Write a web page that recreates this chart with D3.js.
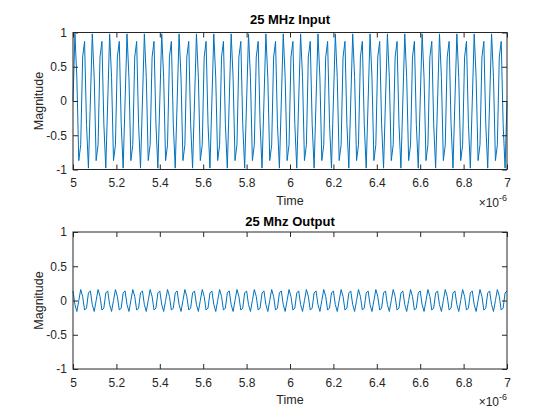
<!DOCTYPE html>
<html>
<head>
  <meta charset="utf-8">
  <title>25 MHz Input / Output</title>
  <style type="text/css">
    body { margin: 0; background: #fff; }
    svg { display: block; font-family: "Liberation Sans", Arial, sans-serif; }
    .tick text { fill: #262626; font-size: 12px; }
    .tick line { stroke: #262626; }
    .lbl { fill: #262626; font-size: 12.5px; }
    .ttl { fill: #000; font-size: 13px; font-weight: bold; }
  </style>
</head>
<body>
<svg id="vis" width="560" height="420"></svg>

<script src="https://cdnjs.cloudflare.com/ajax/libs/d3/7.8.5/d3.min.js"></script>
<script type="text/javascript">
  // sampling grid: 5 us to 7 us
  var tStart = 5e-6
  var tStep = 1 / 112.5e6

  var xTicks = [5, 5.2, 5.4, 5.6, 5.8, 6, 6.2, 6.4, 6.6, 6.8, 7]
  var yTicks = [-1, -0.5, 0, 0.5, 1]
  var titles = ['25 MHz Input', '25 Mhz Output']

  // input magnitude (one row = two cycles)
  var inputMag = [
    0, 0.98, 0.34, -0.87, -0.64, 0.64, 0.87, -0.34, -0.98,
    0, 0.98, 0.34, -0.87, -0.64, 0.64, 0.87, -0.34, -0.98,
    0, 0.98, 0.34, -0.87, -0.64, 0.64, 0.87, -0.34, -0.98,
    0, 0.98, 0.34, -0.87, -0.64, 0.64, 0.87, -0.34, -0.98,
    0, 0.98, 0.34, -0.87, -0.64, 0.64, 0.87, -0.34, -0.98,
    0, 0.98, 0.34, -0.87, -0.64, 0.64, 0.87, -0.34, -0.98,
    0, 0.98, 0.34, -0.87, -0.64, 0.64, 0.87, -0.34, -0.98,
    0, 0.98, 0.34, -0.87, -0.64, 0.64, 0.87, -0.34, -0.98,
    0, 0.98, 0.34, -0.87, -0.64, 0.64, 0.87, -0.34, -0.98,
    0, 0.98, 0.34, -0.87, -0.64, 0.64, 0.87, -0.34, -0.98,
    0, 0.98, 0.34, -0.87, -0.64, 0.64, 0.87, -0.34, -0.98,
    0, 0.98, 0.34, -0.87, -0.64, 0.64, 0.87, -0.34, -0.98,
    0, 0.98, 0.34, -0.87, -0.64, 0.64, 0.87, -0.34, -0.98,
    0, 0.98, 0.34, -0.87, -0.64, 0.64, 0.87, -0.34, -0.98,
    0, 0.98, 0.34, -0.87, -0.64, 0.64, 0.87, -0.34, -0.98,
    0, 0.98, 0.34, -0.87, -0.64, 0.64, 0.87, -0.34, -0.98,
    0, 0.98, 0.34, -0.87, -0.64, 0.64, 0.87, -0.34, -0.98,
    0, 0.98, 0.34, -0.87, -0.64, 0.64, 0.87, -0.34, -0.98,
    0, 0.98, 0.34, -0.87, -0.64, 0.64, 0.87, -0.34, -0.98,
    0, 0.98, 0.34, -0.87, -0.64, 0.64, 0.87, -0.34, -0.98,
    0, 0.98, 0.34, -0.87, -0.64, 0.64, 0.87, -0.34, -0.98,
    0, 0.98, 0.34, -0.87, -0.64, 0.64, 0.87, -0.34, -0.98,
    0, 0.98, 0.34, -0.87, -0.64, 0.64, 0.87, -0.34, -0.98,
    0, 0.98, 0.34, -0.87, -0.64, 0.64, 0.87, -0.34, -0.98,
    0, 0.98, 0.34, -0.87, -0.64, 0.64, 0.87, -0.34, -0.98,
    0
  ]

  // output magnitude
  var outputMag = [
    0.14, -0.06, -0.16, 0, 0.16, 0.06, -0.14, -0.11, 0.11,
    0.14, -0.06, -0.16, 0, 0.16, 0.06, -0.14, -0.11, 0.11,
    0.14, -0.06, -0.16, 0, 0.16, 0.06, -0.14, -0.11, 0.11,
    0.14, -0.06, -0.16, 0, 0.16, 0.06, -0.14, -0.11, 0.11,
    0.14, -0.06, -0.16, 0, 0.16, 0.06, -0.14, -0.11, 0.11,
    0.14, -0.06, -0.16, 0, 0.16, 0.06, -0.14, -0.11, 0.11,
    0.14, -0.06, -0.16, 0, 0.16, 0.06, -0.14, -0.11, 0.11,
    0.14, -0.06, -0.16, 0, 0.16, 0.06, -0.14, -0.11, 0.11,
    0.14, -0.06, -0.16, 0, 0.16, 0.06, -0.14, -0.11, 0.11,
    0.14, -0.06, -0.16, 0, 0.16, 0.06, -0.14, -0.11, 0.11,
    0.14, -0.06, -0.16, 0, 0.16, 0.06, -0.14, -0.11, 0.11,
    0.14, -0.06, -0.16, 0, 0.16, 0.06, -0.14, -0.11, 0.11,
    0.14, -0.06, -0.16, 0, 0.16, 0.06, -0.14, -0.11, 0.11,
    0.14, -0.06, -0.16, 0, 0.16, 0.06, -0.14, -0.11, 0.11,
    0.14, -0.06, -0.16, 0, 0.16, 0.06, -0.14, -0.11, 0.11,
    0.14, -0.06, -0.16, 0, 0.16, 0.06, -0.14, -0.11, 0.11,
    0.14, -0.06, -0.16, 0, 0.16, 0.06, -0.14, -0.11, 0.11,
    0.14, -0.06, -0.16, 0, 0.16, 0.06, -0.14, -0.11, 0.11,
    0.14, -0.06, -0.16, 0, 0.16, 0.06, -0.14, -0.11, 0.11,
    0.14, -0.06, -0.16, 0, 0.16, 0.06, -0.14, -0.11, 0.11,
    0.14, -0.06, -0.16, 0, 0.16, 0.06, -0.14, -0.11, 0.11,
    0.14, -0.06, -0.16, 0, 0.16, 0.06, -0.14, -0.11, 0.11,
    0.14, -0.06, -0.16, 0, 0.16, 0.06, -0.14, -0.11, 0.11,
    0.14, -0.06, -0.16, 0, 0.16, 0.06, -0.14, -0.11, 0.11,
    0.14, -0.06, -0.16, 0, 0.16, 0.06, -0.14, -0.11, 0.11,
    0.14
  ]

  var svg = d3.select('#vis')
  var left = 73, right = 507
  var panels = [
    { top: 32.5, bottom: 169.5, values: inputMag, title: titles[0], titleY: 23.5 },
    { top: 232, bottom: 369, values: outputMag, title: titles[1], titleY: 226 }
  ]

  // x in microseconds
  var xScale = d3.scaleLinear()
    .domain([5, 7])
    .range([left, right])

  // plain hyphen for negatives, like matlab
  var fmt = function(d) { return String(d) }

  panels.forEach(function(p) {
    var yScale = d3.scaleLinear()
      .domain([-1, 1])
      .range([p.bottom, p.top])

    var g = svg.append('g')

    var line = d3.line()
      .x(function(d, i) { return xScale((tStart + i * tStep) * 1e6) })
      .y(function(d) { return yScale(d) })

    g.append('path')
      .datum(p.values)
      .attr('fill', 'none')
      .attr('stroke', '#0072BD')
      .attr('stroke-width', 1)
      .attr('d', line)

    // inward ticks on all four sides, like the matlab box
    g.append('g')
      .attr('transform', 'translate(0,' + p.bottom + ')')
      .call(d3.axisBottom(xScale).tickValues(xTicks).tickFormat(fmt).tickSize(-5).tickPadding(9))
    g.append('g')
      .attr('transform', 'translate(0,' + p.top + ')')
      .call(d3.axisTop(xScale).tickValues(xTicks).tickFormat('').tickSize(-5))
    g.append('g')
      .attr('transform', 'translate(' + left + ',0)')
      .call(d3.axisLeft(yScale).tickValues(yTicks).tickFormat(fmt).tickSize(-5).tickPadding(6))
    g.append('g')
      .attr('transform', 'translate(' + right + ',0)')
      .call(d3.axisRight(yScale).tickValues(yTicks).tickFormat('').tickSize(-5))

    g.selectAll('.domain').remove()
    g.selectAll('.tick text').style('font-family', null)

    g.append('rect')
      .attr('x', left).attr('y', p.top)
      .attr('width', right - left).attr('height', p.bottom - p.top)
      .attr('fill', 'none')
      .attr('stroke', '#262626')
      .attr('stroke-width', 1)

    g.append('text')
      .attr('class', 'ttl')
      .attr('x', (left + right) / 2)
      .attr('y', p.titleY)
      .attr('text-anchor', 'middle')
      .text(p.title)

    g.append('text')
      .attr('class', 'lbl')
      .attr('x', (left + right) / 2)
      .attr('y', p.bottom + 35)
      .attr('text-anchor', 'middle')
      .text('Time')

    g.append('text')
      .attr('class', 'lbl')
      .attr('transform', 'translate(43,' + (p.top + p.bottom) / 2 + ') rotate(-90)')
      .attr('text-anchor', 'middle')
      .text('Magnitude')

    var ex = g.append('text')
      .attr('class', 'lbl')
      .attr('x', right)
      .attr('y', p.bottom + 37)
      .attr('text-anchor', 'end')
      .style('font-size', '12px')
    ex.append('tspan').text('\u00d710')
    ex.append('tspan').attr('dy', -6).style('font-size', '9px').text('-6')
  })
</script>
</body>
</html>
